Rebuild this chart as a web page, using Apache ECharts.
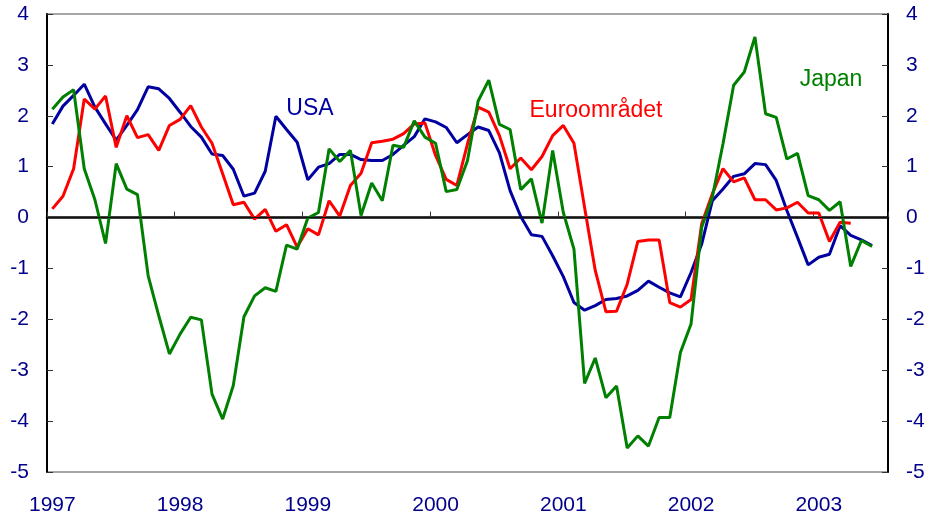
<!DOCTYPE html>
<html>
<head>
<meta charset="utf-8">
<script src="https://cdn.jsdelivr.net/npm/echarts@6/dist/echarts.min.js"></script>
<style>
	html, body { margin: 0; padding: 0; background: #fff; }
	#main { width: 933px; height: 517px; }
</style>
</head>
<body>
<div id="main"></div>
<script>
// 年份和月份
var years = [1997, 1998, 1999, 2000, 2001, 2002, 2003];
var monthsLastYear = 7;
var months = [];
for (var y = 0; y < years.length; y++) {
	var n = (y == years.length - 1) ? monthsLastYear : 12;
	for (var m = 1; m <= n; m++) {
		months.push(years[y] + '-' + (m < 10 ? '0' + m : m));
	}
}

// 数据 (月度)
var usa = [1.84, 2.19, 2.40, 2.62, 2.17, 1.84, 1.52, 1.81, 2.12, 2.57, 2.53, 2.34,
	2.07, 1.79, 1.58, 1.25, 1.22, 0.95, 0.42, 0.48, 0.91, 1.99, 1.73, 1.48,
	0.74, 0.99, 1.06, 1.24, 1.24, 1.14, 1.12, 1.12, 1.24, 1.42, 1.59, 1.94,
	1.88, 1.77, 1.47, 1.63, 1.78, 1.71, 1.27, 0.53, 0.02, -0.34, -0.37, -0.75,
	-1.16, -1.67, -1.82, -1.73, -1.61, -1.59, -1.54, -1.43, -1.25, -1.37, -1.48, -1.56,
	-1.08, -0.52, 0.33, 0.56, 0.81, 0.86, 1.06, 1.04, 0.73, 0.14, -0.39, -0.93,
	-0.78, -0.72, -0.16, -0.35, -0.44, -0.55, null];

var euro = [0.17, 0.42, 0.96, 2.33, 2.13, 2.39, 1.38, 2.00, 1.57, 1.63, 1.32, 1.81,
	1.93, 2.20, 1.78, 1.46, 0.86, 0.25, 0.30, -0.03, 0.16, -0.27, -0.14, -0.58,
	-0.22, -0.34, 0.33, 0.03, 0.63, 0.87, 1.47, 1.50, 1.54, 1.65, 1.84, 1.86,
	1.22, 0.75, 0.63, 1.45, 2.17, 2.07, 1.61, 0.96, 1.17, 0.94, 1.20, 1.61,
	1.81, 1.46, 0.20, -1.04, -1.85, -1.84, -1.31, -0.47, -0.44, -0.44, -1.67, -1.76,
	-1.61, -0.12, 0.47, 0.96, 0.70, 0.78, 0.35, 0.35, 0.15, 0.19, 0.30, 0.09,
	0.09, -0.47, -0.09, -0.11, null, null, null];

var japan = [2.13, 2.37, 2.51, 0.96, 0.35, -0.51, 1.06, 0.56, 0.45, -1.14, -1.93, -2.68,
	-2.29, -1.96, -2.01, -3.47, -3.96, -3.30, -1.95, -1.54, -1.38, -1.45, -0.54, -0.62,
	-0.01, 0.10, 1.35, 1.10, 1.32, 0.04, 0.68, 0.33, 1.42, 1.38, 1.90, 1.58,
	1.46, 0.51, 0.55, 1.12, 2.29, 2.70, 1.83, 1.73, 0.55, 0.76, -0.11, 1.32,
	0.10, -0.62, -3.26, -2.76, -3.54, -3.31, -4.53, -4.29, -4.49, -3.93, -3.93, -2.65,
	-2.09, -0.19, 0.40, 1.45, 2.60, 2.86, 3.55, 2.04, 1.97, 1.15, 1.26, 0.43,
	0.35, 0.14, 0.31, -0.96, -0.45, -0.57, null];

var font = 'Arial, "Liberation Sans", sans-serif';
var labelColor = '#00008b';

var chart = echarts.init(document.getElementById('main'));

// y轴 (左右两侧相同)
function makeYAxis(pos) {
	return {
		type: 'value',
		position: pos,
		min: -5,
		max: 4,
		interval: 1,
		splitLine: { show: false },
		axisLine: { show: true, lineStyle: { color: '#000', width: 2 } },
		axisTick: { show: true, inside: true, length: 6, lineStyle: { color: '#333', width: 1 } },
		axisLabel: { color: labelColor, fontSize: 21, fontFamily: font, margin: 18 }
	};
}

function makeSeries(name, data, color) {
	return {
		name: name,
		type: 'line',
		data: data,
		showSymbol: false,
		symbol: 'none',
		smooth: false,
		lineStyle: { color: color, width: 3 },
		itemStyle: { color: color },
		emphasis: { disabled: true },
		silent: true
	};
}

var usaSeries = makeSeries('USA', usa, '#0000a0');
// 零线
usaSeries.markLine = {
	silent: true,
	symbol: 'none',
	label: { show: false },
	lineStyle: { color: '#111', width: 1, type: 'solid' },
	data: [{ yAxis: 0 }]
};

var option = {
	animation: false,
	backgroundColor: '#fff',
	grid: {
		left: 47,
		right: 45,
		top: 14,
		bottom: 45,
		show: true,
		borderColor: '#888',
		borderWidth: 1.5
	},
	xAxis: {
		type: 'category',
		data: months,
		boundaryGap: true,
		axisLine: { show: true, lineStyle: { color: '#000', width: 2.5 } },
		axisTick: { show: true, inside: true, length: 6, interval: 11, lineStyle: { color: '#333', width: 1 } },
		axisLabel: {
			interval: 11,
			color: labelColor,
			fontSize: 21,
			fontFamily: font,
			margin: 23,
			formatter: function (v) { return v.slice(0, 4); }
		}
	},
	yAxis: [makeYAxis('left'), makeYAxis('right')],
	series: [
		usaSeries,
		makeSeries('Euroområdet', euro, '#ff0000'),
		makeSeries('Japan', japan, '#008000')
	],
	graphic: [
		{ type: 'text', x: 310, y: 109, style: { text: 'USA', fill: '#0000a0', font: '23px ' + font, textAlign: 'center', textVerticalAlign: 'middle' } },
		{ type: 'text', x: 596, y: 111, style: { text: 'Euroområdet', fill: '#ff0000', font: '23px ' + font, textAlign: 'center', textVerticalAlign: 'middle' } },
		{ type: 'text', x: 831, y: 80, style: { text: 'Japan', fill: '#008000', font: '23px ' + font, textAlign: 'center', textVerticalAlign: 'middle' } }
	]
};

chart.setOption(option);
window.onresize = function () {
	chart.resize();
};
</script>
</body>
</html>
